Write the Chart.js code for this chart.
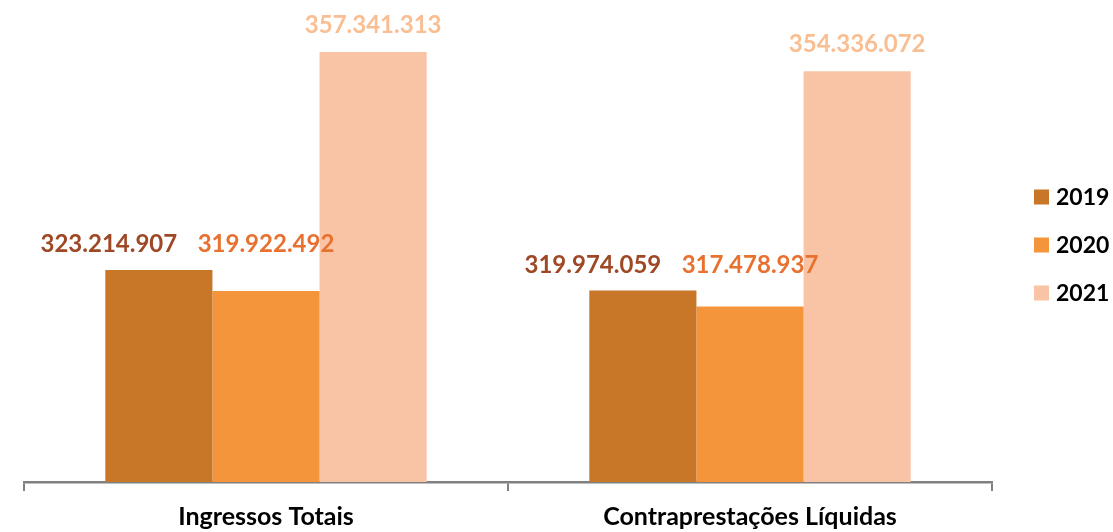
<!DOCTYPE html>
<html><head><meta charset="utf-8">
<script src="https://cdn.jsdelivr.net/npm/chart.js@4.4.1/dist/chart.umd.min.js"></script>
<style>html,body{margin:0;padding:0;background:#fff;} #wrap{width:1113px;height:532px;position:relative;}</style>
</head><body><div id="wrap"><canvas id="c" width="1113" height="532"></canvas></div>
<script>
const categories = ['Ingressos Totais', 'Contraprestações Líquidas'];
const seriesLabels = ['2019', '2020', '2021'];
const values2019 = [323214907, 319974059];
const values2020 = [319922492, 317478937];
const values2021 = [357341313, 354336072];
const barColors = ['#C87628', '#F5953B', '#F9C4A6'];
const labelColors = ['#9E4826', '#E9712F', '#FABE93'];

function fmt(v) { return String(v).replace(/\B(?=(\d{3})+(?!\d))/g, '.'); }

const VALUE_FONT = 'bold 24px Lato';
const LEGEND_FONT = 'bold 23px Lato';

const valueLabels = {
  id: 'valueLabels',
  afterDatasetsDraw(chart, args, opts) {
    const ctx = chart.ctx;
    ctx.save();
    ctx.font = VALUE_FONT;
    ctx.textAlign = 'center';
    ctx.textBaseline = 'alphabetic';
    chart.data.datasets.forEach((ds, di) => {
      const meta = chart.getDatasetMeta(di);
      meta.data.forEach((bar, i) => {
        let y;
        if (di < 2) {
          const a = chart.getDatasetMeta(0).data[i].y;
          const b = chart.getDatasetMeta(1).data[i].y;
          y = Math.min(a, b) - opts.gapLow;
        } else {
          y = bar.y - opts.gapHigh;
        }
        const x = bar.x + (opts.dx[di] || 0);
        ctx.fillStyle = labelColors[di];
        ctx.fillText(fmt(ds.data[i]), x, y);
      });
    });
    ctx.restore();
  }
};

const sideLegend = {
  id: 'sideLegend',
  afterDraw(chart, args, opts) {
    const ctx = chart.ctx;
    ctx.save();
    ctx.font = LEGEND_FONT;
    ctx.textBaseline = 'middle';
    ctx.textAlign = 'left';
    chart.data.datasets.forEach((ds, di) => {
      const cy = opts.top + di * opts.step;
      ctx.fillStyle = ds.backgroundColor;
      ctx.fillRect(opts.x, cy - opts.box / 2, opts.box, opts.box);
      ctx.fillStyle = '#000000';
      ctx.fillText(ds.label, opts.x + opts.box + opts.gap, cy + 1);
    });
    ctx.restore();
  }
};

const datasets = [values2019, values2020, values2021].map((vals, i) => ({
  label: seriesLabels[i],
  data: vals,
  backgroundColor: barColors[i],
  borderWidth: 0,
  categoryPercentage: 0.664,
  barPercentage: 1.0
}));

new Chart(document.getElementById('c'), {
  type: 'bar',
  data: { labels: categories, datasets: datasets },
  plugins: [valueLabels, sideLegend],
  options: {
    responsive: false,
    animation: false,
    layout: { padding: { left: 24, right: 121, top: 35, bottom: 0 } },
    plugins: {
      legend: { display: false },
      tooltip: { enabled: false },
      valueLabels: { gapLow: 17.5, gapHigh: 19, dx: [-50, 0, 0] },
      sideLegend: { x: 1034, top: 197, step: 48, box: 15, gap: 7 }
    },
    scales: {
      x: {
        afterFit(scale) { scale.height = 50; },
        grid: { display: true, drawOnChartArea: false, drawTicks: true, tickLength: 9, color: '#808080', lineWidth: 2, offset: true },
        border: { display: true, color: '#808080', width: 2.5 },
        ticks: { color: '#000000', font: { family: 'Lato', weight: 'bold', size: 25, lineHeight: 1.1 }, padding: 12, maxRotation: 0, autoSkip: false }
      },
      y: { display: false, min: 290000000, max: 360000000 }
    }
  }
});
</script>
</body></html>
